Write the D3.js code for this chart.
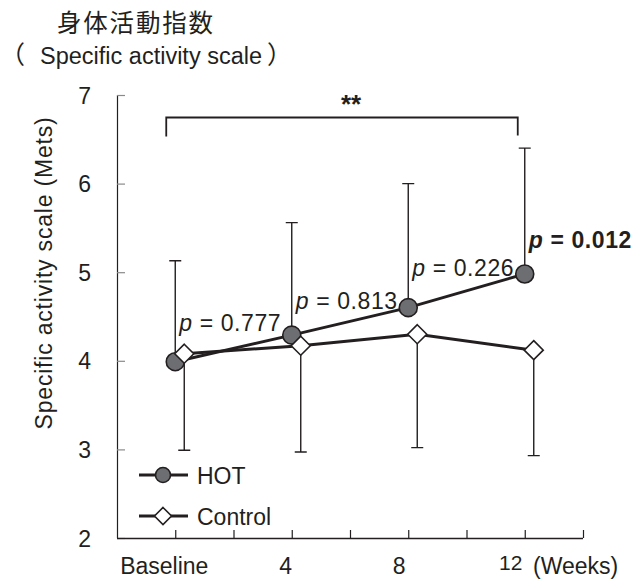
<!DOCTYPE html>
<html>
<head>
<meta charset="utf-8">
<script src="https://cdn.jsdelivr.net/npm/d3@7"></script>
<style>
  html, body { margin: 0; padding: 0; background: #fff; }
  svg { display: block; }
  text { font-family: "Liberation Sans", Arial, Helvetica, sans-serif; fill: #231f20; }
</style>
</head>
<body>
<svg id="chart" width="638" height="579"></svg>
<script>
// Follow-up visits (weeks) and their axis labels
const weeks = [0, 4, 8, 12];
const weekLabels = ["Baseline", "4", "8", "12"];
const yTicks = [2, 3, 4, 5, 6, 7];

// HOT group: mean and upper end of the error bar (Mets)
const hotMean  = [3.99, 4.29, 4.60, 4.98];
const hotUpper = [5.13, 5.56, 6.00, 6.40];

// Control group: mean and lower end of the error bar (Mets)
const ctrlMean  = [4.08, 4.17, 4.30, 4.12];
const ctrlLower = [2.99, 2.97, 3.02, 2.93];

// Between-group p values at each visit
const pValues = ["0.777", "0.813", "0.226", "0.012"];
const pBold   = [false, false, false, true];

const ink = "#231f20";
const svg = d3.select("#chart");

const x = d3.scaleLinear().domain([-2, 14]).range([117, 583]);
const y = d3.scaleLinear().domain([2, 7]).range([538, 95]);
const ctrlShift = 9;                     // control markers sit slightly right of the visit
const pNudge = [-31, -26, -32, -26];     // p labels above the HOT points
const labelShift = [-11, -6, -9, -14];   // horizontal nudge of the week labels

// Titles
svg.append("text")
  .attr("x", 57).attr("y", 32)
  .style("font-family", "'Noto Sans CJK JP', sans-serif")
  .style("font-size", "24.5px").style("letter-spacing", "1.8px")
  .text("身体活動指数");
const sub = svg.append("text").attr("y", 64).style("font-size", "23.5px");
sub.append("tspan").attr("x", 0)
  .style("font-family", "'Noto Sans CJK JP', sans-serif").style("font-size", "25px").text("（");
sub.append("tspan").attr("x", 40).text("Specific activity scale");
sub.append("tspan").attr("dx", 5)
  .style("font-family", "'Noto Sans CJK JP', sans-serif").style("font-size", "25px").text("）");

// Y axis
const yAxis = svg.append("g").attr("transform", `translate(${x(-2)},0)`)
  .call(d3.axisRight(y).tickValues(yTicks).tickSize(8).tickFormat(""));
yAxis.select(".domain").attr("stroke", ink).attr("stroke-width", 1.2).attr("d", `M0.5,${y(7)}V${y(2)}`);
yAxis.selectAll(".tick line").attr("stroke", "#8a8a8a").attr("stroke-width", 1.2);

svg.append("g").selectAll("text").data(yTicks).join("text")
  .attr("x", 91).attr("y", d => y(d) + 8.5)
  .attr("text-anchor", "end")
  .style("font-size", "23px")
  .text(d => d);

svg.append("text")
  .attr("transform", `translate(52,273) rotate(-90)`)
  .attr("text-anchor", "middle")
  .style("font-size", "23px").style("letter-spacing", "0.8px")
  .text("Specific activity scale (Mets)");

// X axis
const xAxis = svg.append("g").attr("transform", `translate(0,${y(2)})`)
  .call(d3.axisTop(x).tickValues(d3.range(0, 15, 2)).tickSize(8).tickFormat(""));
xAxis.select(".domain").attr("stroke", ink).attr("stroke-width", 1.4).attr("d", `M${x(-2)},0.5H${x(14)}`);
xAxis.selectAll(".tick line").attr("stroke", ink).attr("stroke-width", 1.2);

svg.append("g").selectAll("text").data(weeks).join("text")
  .attr("x", (d, i) => x(d) + labelShift[i])
  .attr("y", (d, i) => i === 3 ? 570 : 574)
  .attr("text-anchor", "middle")
  .style("font-size", (d, i) => i === 3 ? "21px" : "23px")
  .text((d, i) => weekLabels[i]);
svg.append("text")
  .attr("x", 533).attr("y", 574)
  .style("font-size", "23px")
  .text("(Weeks)");

// Significance bracket between baseline and week 12
const bx0 = x(0) - 9, bx1 = x(12) - 7, by = 117.5;
svg.append("path")
  .attr("d", `M${bx0},${by + 19}V${by}H${bx1}V${by + 18}`)
  .attr("fill", "none").attr("stroke", ink).attr("stroke-width", 1.8);
svg.append("text")
  .attr("x", 351).attr("y", 113)
  .attr("text-anchor", "middle")
  .style("font-size", "26px").style("font-weight", "bold")
  .text("**");

// Error bars
const cap = 12;
svg.append("g").selectAll("path").data(weeks).join("path")
  .attr("d", (d, i) => `M${x(d)},${y(hotMean[i])}V${y(hotUpper[i])}M${x(d) - cap/2},${y(hotUpper[i])}h${cap}`)
  .attr("fill", "none").attr("stroke", ink).attr("stroke-width", 1.4);
svg.append("g").selectAll("path").data(weeks).join("path")
  .attr("d", (d, i) => `M${x(d) + ctrlShift},${y(ctrlMean[i])}V${y(ctrlLower[i])}M${x(d) + ctrlShift - cap/2},${y(ctrlLower[i])}h${cap}`)
  .attr("fill", "none").attr("stroke", ink).attr("stroke-width", 1.4);

// Lines
const hotLine = d3.line().x(d => x(d)).y((d, i) => y(hotMean[i]));
const ctrlLine = d3.line().x(d => x(d) + ctrlShift).y((d, i) => y(ctrlMean[i]));
svg.append("path").attr("d", ctrlLine(weeks)).attr("fill", "none").attr("stroke", ink).attr("stroke-width", 3);
svg.append("path").attr("d", hotLine(weeks)).attr("fill", "none").attr("stroke", ink).attr("stroke-width", 3);

// Markers
const diamond = s => `M0,${-s}L${s},0L0,${s}L${-s},0Z`;
svg.append("g").selectAll("circle").data(weeks).join("circle")
  .attr("cx", d => x(d)).attr("cy", (d, i) => y(hotMean[i])).attr("r", 9)
  .attr("fill", "#6d6e71").attr("stroke", ink).attr("stroke-width", 1.6);
svg.append("g").selectAll("path").data(weeks).join("path")
  .attr("transform", (d, i) => `translate(${x(d) + ctrlShift},${y(ctrlMean[i])})`)
  .attr("d", diamond(9.5))
  .attr("fill", "#fff").attr("stroke", ink).attr("stroke-width", 1.6);

// p values
const pText = svg.append("g").selectAll("text").data(weeks).join("text")
  .attr("x", d => x(d) + 4)
  .attr("y", (d, i) => y(hotMean[i]) + pNudge[i])
  .style("font-size", "23px").style("letter-spacing", "0.6px")
  .style("font-weight", (d, i) => pBold[i] ? "bold" : "normal");
pText.append("tspan").style("font-style", "italic").text("p");
pText.append("tspan").text((d, i) => " = " + pValues[i]);

// Legend
const legend = svg.append("g");
const lgY = [475, 516];
lgY.forEach((ly, k) => {
  legend.append("path").attr("d", `M139,${ly}H188`).attr("stroke", ink).attr("stroke-width", 3);
  if (k === 0) {
    legend.append("circle").attr("cx", 163).attr("cy", ly).attr("r", 7.5)
      .attr("fill", "#6d6e71").attr("stroke", ink).attr("stroke-width", 1.6);
  } else {
    legend.append("path").attr("transform", `translate(163,${ly})`).attr("d", diamond(8.5))
      .attr("fill", "#fff").attr("stroke", ink).attr("stroke-width", 1.6);
  }
  legend.append("text").attr("x", 197).attr("y", ly + 8.5)
    .style("font-size", "23px")
    .text(k === 0 ? "HOT" : "Control");
});
</script>
</body>
</html>
